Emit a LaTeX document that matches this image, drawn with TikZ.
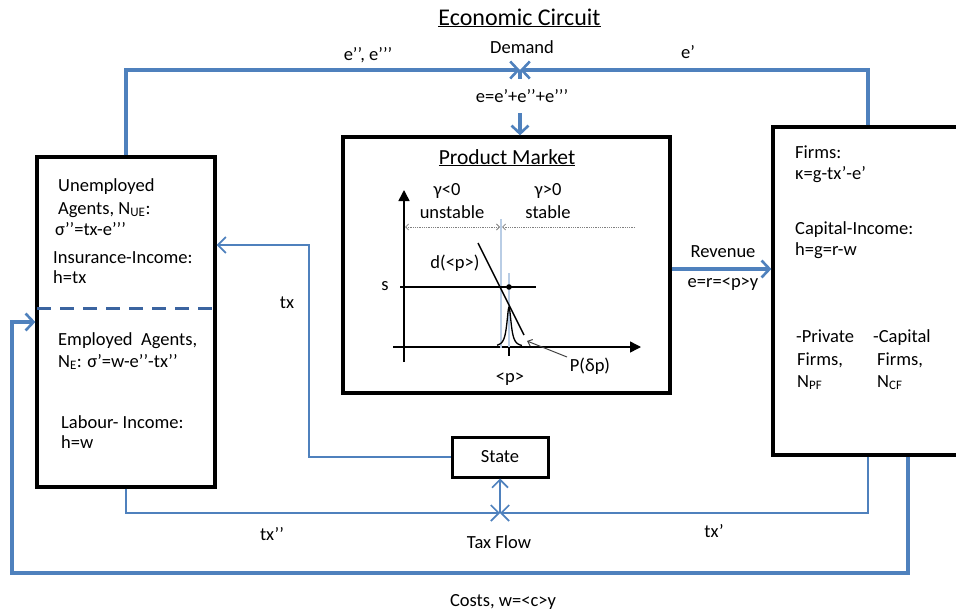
\documentclass[tikz,border=0pt]{standalone}
\usepackage{fontspec}
\setmainfont{Carlito}
\usetikzlibrary{arrows.meta,calc}
\definecolor{flow}{HTML}{4F81BD}
\definecolor{dashc}{HTML}{3B64A0}
\definecolor{lightv}{HTML}{B9CDE5}
\begin{document}
\begin{tikzpicture}[x=1pt,y=-1pt,
  txt/.style={font=\fontsize{18.5}{22}\selectfont, inner sep=0pt},
  lbl/.style={txt, anchor=base west},
  clbl/.style={txt, anchor=base},
  box/.style={draw=black, line width=3.3pt, inner sep=0pt},
  thickflow/.style={draw=flow, line width=3.2pt, line join=miter,
    -{Straight Barb[length=8pt,width=17pt,line width=2.6pt]}},
  thinflow/.style={draw=flow, line width=1.7pt, line join=miter,
    -{Straight Barb[length=8pt,width=16pt,line width=1.7pt]}},
  graphline/.style={draw=black, line width=1.5pt},
]
\useasboundingbox (0,0) rectangle (956,613);

% title
\node[clbl, font=\fontsize{24}{28}\selectfont] (title) at (519.5,25) {\underline{Economic Circuit}};

% boxes
\node[box, minimum width=178pt, minimum height=330pt] (left) at (126,322) {};
\node[box, minimum width=190pt, minimum height=328pt] (right) at (868,291) {};
\node[box, minimum width=327pt, minimum height=256pt] (prod) at (506.5,265) {};
\node[box, line width=3pt, minimum width=96pt, minimum height=40pt, txt] (state) at (500,457) {State};

% dashed divider
\coordinate (dl) at (37,308);
\coordinate (dr) at (215,308);
\draw[dashc, line width=3pt, dash pattern=on 14pt off 9pt] (dl) -- (dr);

% left box texts
\node[lbl] (u1) at (58,191) {Unemployed};
\node[lbl] (u2) at (58,214) {Agents, N\textsubscript{UE}:};
\node[lbl] (u3) at (55,235) {σ’’=tx-e’’’};
\node[lbl] (u4) at (53,263) {Insurance-Income:};
\node[lbl] (u5) at (53,283) {h=tx};
\node[lbl] (e1) at (58,345) {Employed~~Agents,};
\node[lbl] (e2) at (58,367) {N\textsubscript{E}: σ’=w-e’’-tx’’};
\node[lbl] (e3) at (61,428) {Labour- Income:};
\node[lbl] (e4) at (61,448) {h=w};

% right box texts
\node[lbl] (f1) at (795,158) {Firms:};
\node[lbl] (f2) at (795,179) {κ=g-tx’-e’};
\node[lbl] (f3) at (795,234) {Capital-Income:};
\node[lbl] (f4) at (795,255) {h=g=r-w};
\node[lbl] (p1) at (796,342) {-Private};
\node[lbl] (p2) at (797,365) {Firms,};
\node[lbl] (p3) at (797,387) {N\textsubscript{PF}};
\node[lbl] (c1) at (873,342) {-Capital};
\node[lbl] (c2) at (877,365) {Firms,};
\node[lbl] (c3) at (877,387) {N\textsubscript{CF}};

% product market contents
\node[clbl, font=\fontsize{21.5}{25}\selectfont] (pmt) at (507,164) {\underline{Product Market}};
\draw[graphline, -{Triangle[length=11pt,width=11pt]}] (404,362) -- (404,190);
\draw[graphline, -{Triangle[length=11pt,width=11pt]}] (393,347) -- (641,347);
\draw[gray, line width=0.8pt, densely dotted, {Straight Barb[length=3pt,width=6pt]}-{Straight Barb[length=3pt,width=6pt]}] (405,227) -- (500,227);
\draw[gray, line width=0.8pt, densely dotted, -{Straight Barb[length=3pt,width=6pt]}] (635,227) -- (502,227);
\draw[lightv, line width=1.6pt] (501,219) -- (501,348);
\draw[lightv, line width=1.6pt] (509,273) -- (509,348);
\draw[graphline] (400,287) -- (536,287);
\fill (509,287) circle (2.8pt);
\draw[graphline] (478,243) -- (524,335);
\draw[black, line width=1.3pt] plot[domain=-12:13, samples=90, smooth] ({509+\x},{347-40/(1+(\x/2.6)^2)});
\draw[graphline] (509,347) -- (509,356);
\draw[black!75, line width=1pt, -{Straight Barb[length=4pt,width=7pt]}] (567,357) -- (527,341);
\node[clbl] (gl) at (447,195) {γ<0};
\node[clbl] (gr) at (548,195) {γ>0};
\node[clbl] (us) at (452,218) {unstable};
\node[clbl] (st) at (548,218) {stable};
\node[clbl] (dp) at (455,268) {d(<p>)};
\node[clbl] (sl) at (385,290) {s};
\node[clbl] (pd) at (590,371) {P(δp)};
\node[clbl] (pm) at (510,382) {<p>};

% demand loop
\coordinate (dem) at (520,70);
\coordinate (demstub) at (520,79);
\coordinate (demarr) at (520,113);
\draw[thickflow] (left.north) |- (dem);
\draw[thickflow] (right.north) |- (dem);
\draw[flow, line width=3.2pt] (dem) -- (demstub);
\draw[thickflow] (demarr) -- (prod.north -| demarr);
\node[clbl] (lee) at (368,60) {e’’, e’’’};
\node[clbl] (ldem) at (522,53) {Demand};
\node[clbl] (le1) at (688,58) {e’};
\node[clbl] (lsum) at (522,102) {e=e’+e’’+e’’’};

% revenue
\coordinate (revy) at (720,269);
\draw[thickflow] (prod.east |- revy) -- (right.west |- revy);
\node[clbl] (lrev) at (723,257) {Revenue};
\node[clbl] (lrev2) at (723,287) {e=r=<p>y};

% insurance transfer
\coordinate (txc) at (309,245);
\draw[thinflow] (state.west) -| (txc) -- (left.east |- txc);
\node[clbl] (ltx) at (287,308) {tx};

% tax flow
\coordinate (tj) at (500,513);
\draw[thinflow] (left.south) |- (tj);
\draw[thinflow] (right.south) |- (tj);
\draw[thinflow] (tj) -- (state.south);
\node[clbl] (ltx2) at (272,540) {tx’’};
\node[clbl] (ltax) at (499,548) {Tax Flow};
\node[clbl] (ltx1) at (714,537) {tx’};

% costs
\coordinate (cs) at ($(right.south)+(40,0)$);
\coordinate (cb) at (12,573);
\coordinate (cin) at (12,322);
\draw[thickflow] (cs) |- (cb) -- (cin) -- (left.west |- cin);
\node[clbl] (lcost) at (503,606) {Costs, w=<c>y};
\end{tikzpicture}
\end{document}
